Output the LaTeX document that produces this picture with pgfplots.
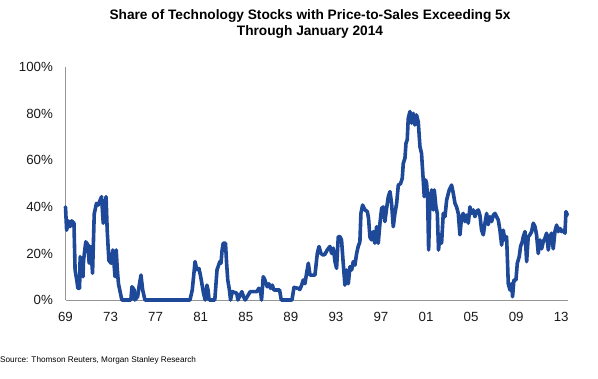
\documentclass[border=0pt]{standalone}
\usepackage{fontspec}
\setmainfont{Liberation Sans}
\usepackage{pgfplots}
\pgfplotsset{compat=1.18}
\definecolor{msblue}{RGB}{30,72,152}
\definecolor{axgray}{RGB}{150,150,150}
\begin{document}
\begin{tikzpicture}[x=1pt,y=1pt]
\path[use as bounding box] (0,0) rectangle (598,379);
\node[font=\bfseries\fontsize{13.7}{15}\selectfont] at (310,363) {Share of Technology Stocks with Price-to-Sales Exceeding 5x};
\node[font=\bfseries\fontsize{13.7}{15}\selectfont] at (310,347.5) {Through January 2014};
\node[anchor=west,font=\fontsize{8.2}{9}\selectfont,inner sep=0pt] at (0,18.5) {Source: Thomson Reuters, Morgan Stanley Research};
\begin{axis}[
  at={(65.5pt,79pt)}, anchor=origin,
  scale only axis, width=502.5pt, height=232.7pt,
  xmin=1969, xmax=2013.6, ymin=0, ymax=100,
  axis x line=bottom, axis y line=left,
  axis line style={-, axgray, line width=0.8pt},
  major tick length=0pt,
  xtick={1969,1973,1977,1981,1985,1989,1993,1997,2001,2005,2009,2013},
  xticklabels={69,73,77,81,85,89,93,97,01,05,09,13},
  ytick={0,20,40,60,80,100},
  yticklabels={0\%,20\%,40\%,60\%,80\%,100\%},
  tick label style={font=\fontsize{13.3}{15}\selectfont, text=black!90},
  xticklabel style={yshift=-9pt},
  yticklabel style={xshift=-9pt},
  /pgf/number format/assume math mode=true,
  clip=false,
]
\addplot[msblue, line width=3.6pt, line join=round, line cap=round] coordinates {
(1969.00,40) (1969.10,30) (1969.25,34) (1969.40,31.5) (1969.55,34) (1969.75,33)
(1969.85,13) (1970.00,8.6) (1970.10,5) (1970.25,5) (1970.30,18.6) (1970.45,14)
(1970.55,10) (1970.60,17) (1970.80,25) (1971.00,23.6) (1971.10,15.8) (1971.25,23)
(1971.40,11.5) (1971.55,37) (1971.75,41.5) (1971.90,40.8) (1972.20,44.4) (1972.35,33)
(1972.60,44.4) (1972.70,30) (1972.85,17) (1973.05,15.8) (1973.20,21.5) (1973.30,15.8)
(1973.40,10) (1973.50,21.5) (1973.60,13) (1973.70,7) (1974.00,0) (1974.80,0)
(1974.90,5.7) (1975.10,4.3) (1975.15,0) (1975.40,1.4) (1975.55,6.4) (1975.70,10.7)
(1975.85,4.3) (1976.05,0) (1980.05,0) (1980.25,4.3) (1980.50,16.5) (1980.65,13)
(1980.85,13.5) (1981.00,10) (1981.25,2.9) (1981.40,0) (1981.55,6.4) (1981.65,4.3)
(1981.75,0) (1982.25,0) (1982.45,13) (1982.70,16.5) (1982.80,15.8) (1982.90,21.5)
(1983.00,24.4) (1983.20,24.4) (1983.30,15.8) (1983.40,8.6) (1983.55,4.3) (1983.65,0)
(1983.80,3.6) (1984.20,2.9) (1984.30,0) (1984.65,3.6) (1984.80,1.4) (1984.95,0)
(1985.40,3.6) (1986.00,3.6) (1986.15,5) (1986.30,4.3) (1986.40,0) (1986.55,10)
(1986.70,8.6) (1986.90,5.7) (1987.05,7) (1987.20,5) (1987.35,6.4) (1987.50,4.3)
(1988.00,4.3) (1988.15,0) (1989.10,0) (1989.28,5.4) (1989.66,5) (1989.80,4.5)
(1989.96,6.4) (1990.10,8.6) (1990.25,7) (1990.40,11.5) (1990.55,15.8) (1990.70,10.7)
(1991.14,10.7) (1991.35,20) (1991.50,23) (1991.67,20) (1991.88,19.3) (1992.03,19.7)
(1992.23,21.5) (1992.47,23) (1992.62,20) (1992.77,22.3) (1992.92,16.5) (1993.06,13.6)
(1993.21,27.2) (1993.36,27.2) (1993.50,25.8) (1993.65,15.8) (1993.80,6.4) (1993.95,12.9)
(1994.10,7) (1994.25,14.3) (1994.40,12.9) (1994.54,16.5) (1994.69,15) (1994.84,20)
(1994.98,23) (1995.13,25) (1995.22,37.2) (1995.37,40.8) (1995.58,38.7) (1995.79,38)
(1995.90,35) (1996.02,27) (1996.17,25.8) (1996.32,29.4) (1996.46,24.4) (1996.61,31.5)
(1996.76,24.4) (1996.91,33) (1997.06,39.4) (1997.20,40) (1997.35,33.7) (1997.50,39.4)
(1997.65,44.4) (1997.80,46.6) (1997.94,41.5) (1998.09,31.5) (1998.24,37.2) (1998.39,41.5)
(1998.54,49.4) (1998.74,50) (1998.89,52.3) (1998.98,58.7) (1999.13,61) (1999.22,67.3)
(1999.33,68.8) (1999.42,78) (1999.57,81) (1999.72,76) (1999.87,80.2) (2000.01,75.2)
(2000.16,79.5) (2000.31,76.6) (2000.46,65.9) (2000.60,63) (2000.75,51.6) (2000.84,44.4)
(2000.96,51.6) (2001.05,50.1) (2001.14,43.7) (2001.23,21.5) (2001.35,43) (2001.50,47.3)
(2001.64,38.7) (2001.73,47.3) (2001.88,40) (2002.00,37.2) (2002.11,21.5) (2002.23,28)
(2002.38,24.4) (2002.53,37.2) (2002.68,35.8) (2002.83,43) (2003.06,47.3) (2003.27,49.4)
(2003.42,45.8) (2003.57,41.5) (2003.71,40) (2003.86,37.2) (2004.01,28) (2004.16,35.8)
(2004.30,37.2) (2004.45,33.7) (2004.60,36.5) (2004.75,33) (2004.90,40) (2005.04,37.2)
(2005.19,38.7) (2005.34,35.8) (2005.49,38) (2005.64,38.7) (2005.78,36.5) (2005.93,30)
(2006.08,28) (2006.23,33) (2006.38,37.2) (2006.52,32.4) (2006.67,35.8) (2006.82,33.7)
(2006.97,36.5) (2007.12,37.2) (2007.26,35.8) (2007.41,34.4) (2007.56,30) (2007.71,23.6)
(2007.85,30) (2008.00,25.8) (2008.15,27.2) (2008.30,7) (2008.45,4.3) (2008.60,7)
(2008.68,1.4) (2008.80,8.6) (2008.98,8.6) (2009.10,15.8) (2009.27,18.6) (2009.39,23)
(2009.54,25) (2009.63,27.2) (2009.78,29.4) (2009.93,16.5) (2010.07,27.2) (2010.22,28)
(2010.37,29.4) (2010.52,33) (2010.67,31.5) (2010.81,28) (2010.96,20) (2011.11,25.8)
(2011.26,22) (2011.40,25) (2011.55,26.5) (2011.70,28.7) (2011.85,21.5) (2012.00,27.2)
(2012.14,28.7) (2012.29,22) (2012.44,29.4) (2012.59,32.2) (2012.74,29.4) (2012.88,30.8)
(2013.03,29.4) (2013.18,30) (2013.33,28.7) (2013.42,38) (2013.54,36.5)
};
\end{axis}
\end{tikzpicture}
\end{document}
